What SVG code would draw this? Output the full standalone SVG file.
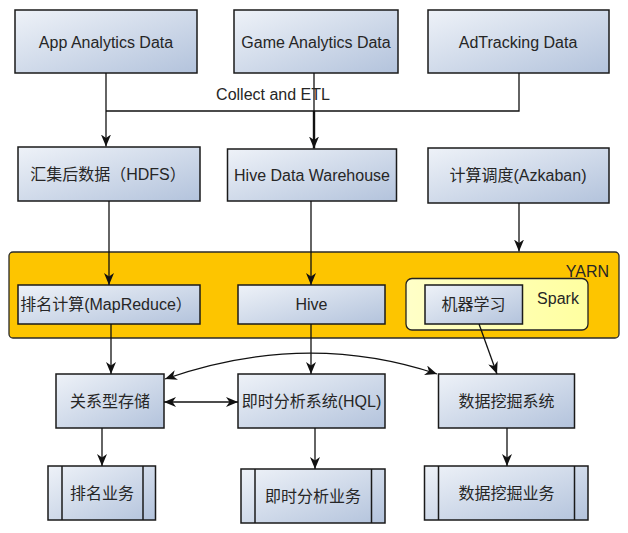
<svg xmlns="http://www.w3.org/2000/svg" width="628" height="533" viewBox="0 0 628 533">
<defs>
<linearGradient id="g" x1="0" y1="0" x2="1" y2="1">
<stop offset="0" stop-color="#eef2f8"/>
<stop offset="1" stop-color="#b3c3dc"/>
</linearGradient>
<linearGradient id="sp" x1="0" y1="0" x2="1" y2="0">
<stop offset="0" stop-color="#ffffc8"/>
<stop offset="1" stop-color="#ffffa0"/>
</linearGradient>
<marker id="arr" viewBox="0 0 12 10" refX="12" refY="5" markerWidth="12" markerHeight="10" markerUnits="userSpaceOnUse" orient="auto-start-reverse">
<path d="M0,0 L12,5 L0,10 L3.5,5 z" fill="#111"/>
</marker>
</defs>
<style>
.box{fill:url(#g);stroke:#1a1a1a;stroke-width:1.5}
.t{font-family:"Liberation Sans","Noto Sans CJK SC",sans-serif;font-size:16px;fill:#262626;text-anchor:middle;dominant-baseline:central}
.c{fill:none;stroke:#111;stroke-width:1.3}
.bar{stroke:#1a1a1a;stroke-width:1.5}
</style>
<rect width="628" height="533" fill="#ffffff"/>
<g id="yarn">
<rect x="9" y="252" width="610" height="86" rx="4" fill="#fdc500" stroke="#2a2a2a" stroke-width="1.3"/>
<text class="t" x="609" y="271" style="text-anchor:end">YARN</text>
</g>
<g id="spark">
<rect x="406" y="278.5" width="182" height="51.5" rx="6" fill="url(#sp)" stroke="#222" stroke-width="1.3"/>
<text class="t" x="558" y="298">Spark</text>
</g>
<g id="app"><rect class="box" x="15" y="10" width="182" height="63"/><text class="t" x="106" y="42">App Analytics Data</text></g>
<g id="game"><rect class="box" x="234" y="10" width="164" height="63"/><text class="t" x="316" y="42">Game Analytics Data</text></g>
<g id="ad"><rect class="box" x="428" y="10" width="181" height="63"/><text class="t" x="518" y="42">AdTracking Data</text></g>
<g id="hdfs"><rect class="box" x="18" y="147" width="182" height="54"/><text class="t" x="108" y="174">汇集后数据（HDFS）</text></g>
<g id="hivedw"><rect class="box" x="227.5" y="149" width="169" height="52"/><text class="t" x="312" y="175">Hive Data Warehouse</text></g>
<g id="azkaban"><rect class="box" x="428" y="148" width="181" height="55"/><text class="t" x="518" y="175">计算调度(Azkaban)</text></g>
<g id="mapreduce"><rect class="box" x="18" y="285" width="182" height="39"/><text class="t" x="106" y="304.5">排名计算(MapReduce）</text></g>
<g id="hive"><rect class="box" x="238" y="285" width="147" height="39"/><text class="t" x="311.5" y="304.5">Hive</text></g>
<g id="ml"><rect class="box" x="425" y="285" width="97.5" height="39"/><text class="t" x="473.5" y="304.5">机器学习</text></g>
<g id="rdb"><rect class="box" x="56" y="374" width="108" height="54"/><text class="t" x="110" y="401">关系型存储</text></g>
<g id="hql"><rect class="box" x="238" y="374" width="147" height="54"/><text class="t" x="311.5" y="401">即时分析系统(HQL)</text></g>
<g id="dm"><rect class="box" x="438.5" y="374" width="136" height="54"/><text class="t" x="506.5" y="401">数据挖掘系统</text></g>
<g id="rank">
<rect class="box" x="48" y="466" width="107.5" height="54"/>
<line class="bar" x1="62" y1="466" x2="62" y2="520"/><line class="bar" x1="143" y1="466" x2="143" y2="520"/>
<text class="t" x="102" y="493">排名业务</text>
</g>
<g id="realtime">
<rect class="box" x="241" y="469" width="144" height="54"/>
<line class="bar" x1="255" y1="469" x2="255" y2="523"/><line class="bar" x1="371.5" y1="469" x2="371.5" y2="523"/>
<text class="t" x="313" y="496">即时分析业务</text>
</g>
<g id="mining">
<rect class="box" x="424.5" y="466" width="163.5" height="54"/>
<line class="bar" x1="438.5" y1="466" x2="438.5" y2="520"/><line class="bar" x1="574.5" y1="466" x2="574.5" y2="520"/>
<text class="t" x="506.5" y="493">数据挖掘业务</text>
</g>
<g id="connectors">
<path class="c" d="M106,73 V146.5" marker-end="url(#arr)"/>
<path class="c" d="M106,111 H519 V73"/>
<path class="c" d="M314,73 V111"/>
<path class="c" d="M314,111 V148.5" style="stroke-width:2.4" marker-end="url(#arr)"/>
<text class="t" x="273" y="94">Collect and ETL</text>
<path class="c" d="M109,201 V285" marker-end="url(#arr)"/>
<path class="c" d="M311,201 V285" marker-end="url(#arr)"/>
<path class="c" d="M519,203 V251.5" marker-end="url(#arr)"/>
<path class="c" d="M111,324 V374" marker-end="url(#arr)"/>
<path class="c" d="M311,324 V374" marker-end="url(#arr)"/>
<path class="c" d="M479,324 L497,374" marker-end="url(#arr)"/>
<path class="c" d="M165,379 Q305,330 437,374" marker-start="url(#arr)" marker-end="url(#arr)"/>
<path class="c" d="M164,402 H238" marker-start="url(#arr)" marker-end="url(#arr)"/>
<path class="c" d="M102,428 V466" marker-end="url(#arr)"/>
<path class="c" d="M315,428 V469" marker-end="url(#arr)"/>
<path class="c" d="M507,428 V466" marker-end="url(#arr)"/>
</g>
</svg>
